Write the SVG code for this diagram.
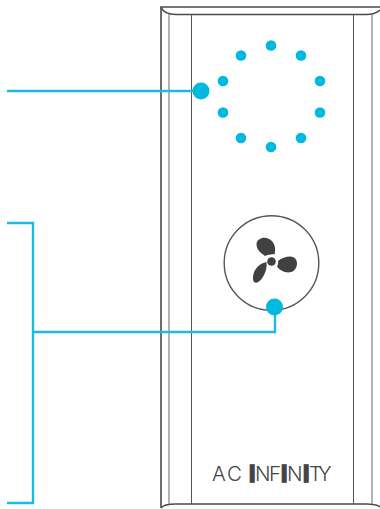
<svg xmlns="http://www.w3.org/2000/svg" width="380" height="509" viewBox="0 0 380 509">
<style>
.body{fill:none;stroke:#4a4a4a;stroke-width:1.6}
.thin{fill:none;stroke:#555;stroke-width:1}
.gray{fill:none;stroke:#8c8c8c;stroke-width:1.3}
.wire{fill:none;stroke:#19bde0;stroke-width:2.4}
.led{fill:#00b8e0}
.blade{fill:#414141}
.logo{font-family:"Inter","Liberation Sans",sans-serif;font-weight:300;font-size:20.5px;fill:#444}
.heavy{stroke:#444;stroke-width:3.6;font-size:20.5px}
</style>
<g id="housing">
<path class="body" d="M380 7H161V508"/>
<path class="body" d="M161 7C163 12 168 14.500 176 14.500H366C374 14.500 378 12 380 10"/>
<path class="body" d="M161 508C163 505 168 504 176 504H366C374 504 378 505 380 507"/>
<path class="gray" d="M169 14V504M372 14V504"/>
<path class="thin" d="M191.500 14V504M353.500 14V504"/>
</g>
<g id="led-ring">
<circle class="led" cx="271" cy="45.500" r="5.300"/>
<circle class="led" cx="301" cy="55.500" r="5.300"/>
<circle class="led" cx="320" cy="81" r="5.300"/>
<circle class="led" cx="320" cy="112.500" r="5.300"/>
<circle class="led" cx="301" cy="138" r="5.300"/>
<circle class="led" cx="271" cy="147" r="5.300"/>
<circle class="led" cx="241" cy="138" r="5.300"/>
<circle class="led" cx="223" cy="112.500" r="5.300"/>
<circle class="led" cx="223" cy="81" r="5.300"/>
<circle class="led" cx="241" cy="55.500" r="5.300"/>
</g>
<g id="fan">
<circle cx="271.500" cy="263" r="47.300" fill="none" stroke="#555" stroke-width="1.4"/>
<circle cx="271.500" cy="261.500" r="4.300" class="blade"/>
<path class="blade" d="M265 256C261 253 256.500 250 256.500 244C257 239 263 236.500 268 238.500C274 241 276.500 247 274.500 254.500C271 254 268 255 265 256Z"/>
<path class="blade" d="M278 261C283 257 290 255.500 294 257.500C298 260 298 267 294 270.500C289 274.500 281 272 277 266.500C278 265 278.500 263 278 261Z"/>
<path class="blade" d="M266.500 262C267 267 266 273 261.500 279C258 283.500 253.500 284.500 253 279C252.500 272 257 264 266.500 262Z"/>
</g>
<g id="logo">
<text class="logo" y="481"><tspan x="212">A</tspan><tspan x="227">C</tspan><tspan x="249.500" class="heavy">I</tspan><tspan x="255">N</tspan><tspan x="269">F</tspan><tspan x="281.500" class="heavy">I</tspan><tspan x="287">N</tspan><tspan x="303.500" class="heavy">I</tspan><tspan x="309">T</tspan><tspan x="318">Y</tspan></text>
</g>
<g id="connectors">
<path class="wire" d="M7 91H201"/>
<path class="wire" d="M7 223H33V503H7"/>
<path class="wire" d="M33 332H275V307"/>
<circle class="led" cx="201" cy="91" r="8.500"/>
<circle class="led" cx="274.500" cy="307" r="8.500"/>
</g>
</svg>
